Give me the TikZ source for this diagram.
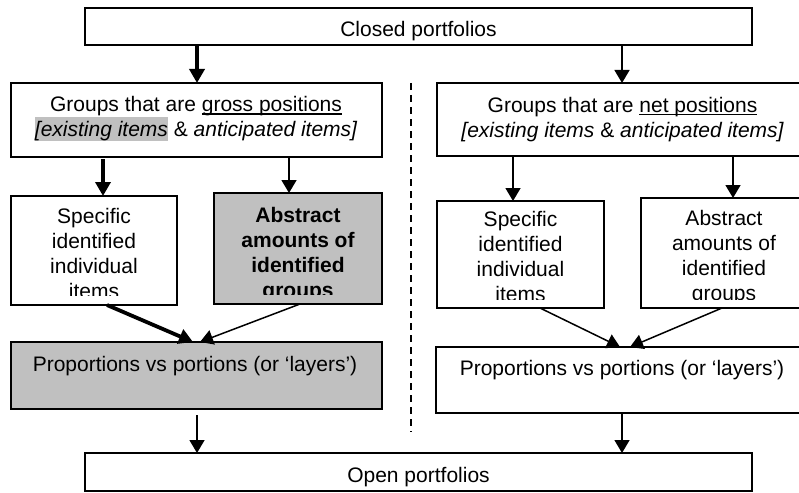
\documentclass[tikz,border=0pt]{standalone}
\usepackage{fontspec}
\setmainfont{Liberation Sans}
\usetikzlibrary{arrows.meta}
\definecolor{boxgray}{HTML}{C0C0C0}
\setlength{\fboxsep}{0pt}
\newcommand{\myul}[1]{\setbox0\hbox{#1}\rlap{\rule[-3pt]{\wd0}{1.3pt}}\box0}
\tikzset{
  box/.style={draw, line width=1.5pt, inner sep=0pt, outer sep=0pt},
  graybox/.style={box, fill=boxgray},
  txt/.style={inner sep=0pt, outer sep=0pt, align=center, anchor=north},
  thinarrow/.style={line width=1.5pt, -{Triangle[length=13pt,width=15pt]}},
  thickarrow/.style={line width=3.8pt, -{Triangle[length=14pt,width=15pt]}},
  divider/.style={line width=1.2pt, dash pattern=on 7pt off 5pt},
}
\begin{document}
\begin{tikzpicture}[x=1pt,y=-1pt,font=\fontsize{21}{25}\selectfont]
\useasboundingbox[fill=white] (0,0) rectangle (799,492);

% boxes
\node[box, minimum width=667pt, minimum height=37pt] (top) at (418.5,26.5) {};
\node[box, minimum width=371pt, minimum height=74pt] (lg) at (196.5,120) {};
\node[box, minimum width=371pt, minimum height=73pt] (rg) at (622.5,119.5) {};
\node[box, minimum width=166pt, minimum height=109pt] (ls) at (94,250.5) {};
\node[graybox, minimum width=168pt, minimum height=111pt] (la) at (298,248.5) {};
\node[box, minimum width=167pt, minimum height=107pt] (rs) at (520.5,254.5) {};
\node[box, minimum width=167pt, minimum height=110pt] (ra) at (724.5,253) {};
\node[graybox, minimum width=371pt, minimum height=67pt] (lp) at (196.5,375.5) {};
\node[box, minimum width=372pt, minimum height=66pt] (rp) at (622,380) {};
\node[box, minimum width=667pt, minimum height=38pt] (bot) at (418.5,472) {};

% texts
\node[txt] (topt) at (418.5,21) {\rule{0pt}{16pt}Closed portfolios};
\node[txt] (lgt) at (196,95.5) {\rule{0pt}{16pt}Groups that are \myul{gross positions}\\
  \colorbox{boxgray}{\itshape\vrule height 20pt depth 4pt width 0pt[existing items} \& {\itshape anticipated items]}};
\node[txt] (rgt) at (622.5,96) {\rule{0pt}{16pt}Groups that are \myul{net positions}\\
  {\itshape [existing items} \& {\itshape anticipated items]}};
\begin{scope}
  \clip (ls.north west) rectangle ([yshift=9.5pt]ls.south east);
  \node[txt] (lst) at (94,207) {\rule{0pt}{16pt}Specific\\identified\\individual\\items};
\end{scope}
\begin{scope}
  \clip (la.north west) rectangle ([yshift=9.5pt]la.south east);
  \node[txt, font=\fontsize{21}{25}\selectfont\bfseries] (lat) at (298,206) {\rule{0pt}{16pt}Abstract\\amounts of\\identified\\groups};
\end{scope}
\begin{scope}
  \clip (rs.north west) rectangle ([yshift=9pt]rs.south east);
  \node[txt] (rst) at (520.5,210) {\rule{0pt}{16pt}Specific\\identified\\individual\\items};
\end{scope}
\begin{scope}
  \clip (ra.north west) rectangle ([yshift=9pt]ra.south east);
  \node[txt] (rat) at (724,209) {\rule{0pt}{16pt}Abstract\\amounts of\\identified\\groups};
\end{scope}
\node[txt] (lpt) at (195,355) {\rule{0pt}{16pt}Proportions vs portions (or ‘layers’)};
\node[txt] (rpt) at (622,359) {\rule{0pt}{16pt}Proportions vs portions (or ‘layers’)};
\node[txt] (bott) at (418.5,466) {\rule{0pt}{16pt}Open portfolios};

% divider
\coordinate (d1) at (411,83);
\coordinate (d2) at (411,432);
\draw[divider] (d1) -- (d2);

% arrow x positions
\coordinate (xa) at (197,0);
\coordinate (xb) at (622,0);
\coordinate (xc) at (103,0);
\coordinate (xd) at (289,0);
\coordinate (xe) at (513,0);
\coordinate (xf) at (733,0);
\coordinate (s7) at (107,0);
\coordinate (e7) at (193,0);
\coordinate (s8) at (300,0);
\coordinate (e8) at (200,0);
\coordinate (s9) at (540,0);
\coordinate (e9) at (620,0);
\coordinate (s10) at (722,0);
\coordinate (e10) at (630,0);

\draw[thickarrow] (top.south -| xa) -- (lg.north -| xa);
\draw[thinarrow] (top.south -| xb) -- (rg.north -| xb);
\draw[thickarrow] ([yshift=-2pt]lg.south -| xc) -- (ls.north -| xc);
\draw[thinarrow] (lg.south -| xd) -- (la.north -| xd);
\draw[thinarrow] (rg.south -| xe) -- (rs.north -| xe);
\draw[thinarrow] (rg.south -| xf) -- (ra.north -| xf);
\draw[thickarrow] (ls.south -| s7) -- (lp.north -| e7);
\draw[thinarrow] (la.south -| s8) -- (lp.north -| e8);
\draw[thinarrow] (rs.south -| s9) -- (rp.north -| e9);
\draw[thinarrow] (ra.south -| s10) -- (rp.north -| e10);
\draw[thinarrow] ([yshift=-6pt]lp.south -| xa) -- (bot.north -| xa);
\draw[thinarrow] (rp.south -| xb) -- (bot.north -| xb);
\end{tikzpicture}
\end{document}
